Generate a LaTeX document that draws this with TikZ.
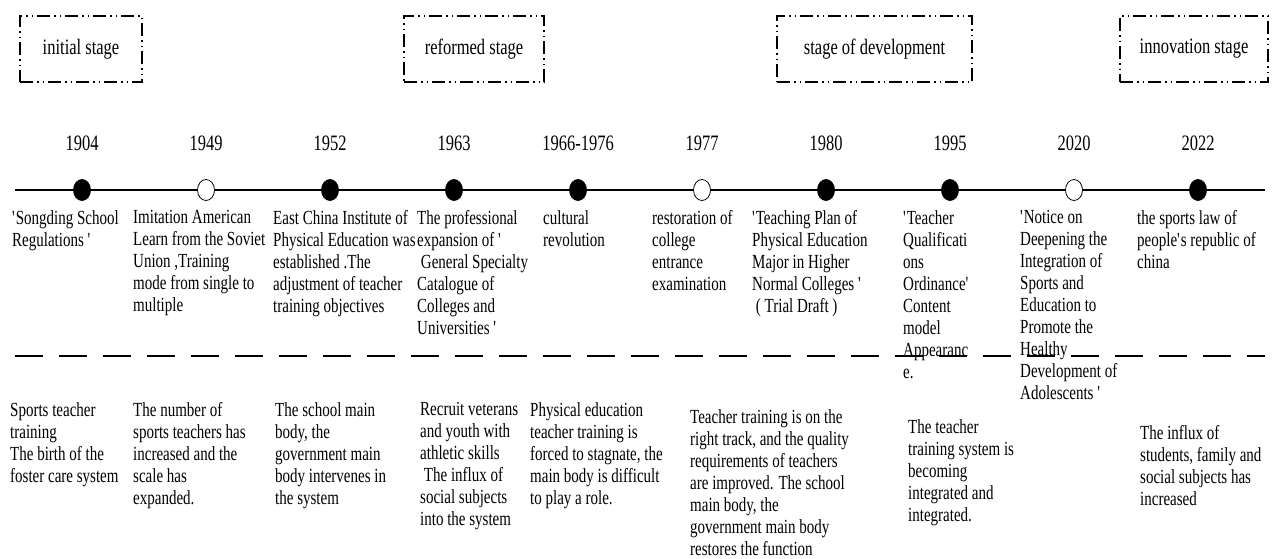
\documentclass[tikz,border=0pt]{standalone}
\usepackage{fontspec}
\setmainfont{Liberation Serif}[FakeStretch=0.75]
\usetikzlibrary{shapes.geometric}

\newcommand{\descfont}{\fontsize{20pt}{22pt}\selectfont}
\newcommand{\headfont}{\fontsize{22pt}{26pt}\selectfont}
\newcommand{\sq}{\textquotesingle}

\tikzset{
  stagebox/.style={draw, line width=1.2pt, minimum height=66pt, inner sep=0pt, font=\headfont,
    dash pattern=on 13pt off 4pt on 1.5pt off 4pt on 1.5pt off 4pt},
  year/.style={font=\headfont, inner sep=0pt},
  fulldot/.style={ellipse, draw, line width=0.8pt, fill=black, minimum width=17pt, minimum height=21pt, inner sep=0pt},
  opendot/.style={fulldot, fill=white},
  desc/.style={anchor=north west, align=left, inner sep=0pt, font=\descfont}
}

\begin{document}
\begin{tikzpicture}[x=1pt,y=1pt]
  \useasboundingbox (0,0) rectangle (1274,-558);

  % stage boxes
  \node[stagebox, minimum width=122pt] (initial) at (81,-49) {initial stage};
  \node[stagebox, minimum width=140pt] (reformed) at (474,-49) {reformed stage};
  \node[stagebox, minimum width=195pt] (develop) at (874.5,-49) {stage of development};
  \node[stagebox, minimum width=148pt] (innov) at (1194,-49) {innovation stage};

  % time line
  \coordinate (lstart) at (15,-190);
  \coordinate (lend) at (1265,-190);
  \draw[line width=1.2pt] (lstart) -- (lend);

  % dots on the line
  \node[fulldot] (d1904) at (82,-190) {};
  \node[opendot] (d1949) at (206,-190) {};
  \node[fulldot] (d1952) at (330,-190) {};
  \node[fulldot] (d1963) at (454,-190) {};
  \node[fulldot] (d1966) at (578,-190) {};
  \node[opendot] (d1977) at (702,-190) {};
  \node[fulldot] (d1980) at (826,-190) {};
  \node[fulldot] (d1995) at (950,-190) {};
  \node[opendot] (d2020) at (1074,-190) {};
  \node[fulldot] (d2022) at (1198,-190) {};

  % years
  \node[year] (y1904) at (82,-143) {1904};
  \node[year] (y1949) at (206,-143) {1949};
  \node[year] (y1952) at (330,-143) {1952};
  \node[year] (y1963) at (454,-143) {1963};
  \node[year] (y1966) at (578,-143) {1966-1976};
  \node[year] (y1977) at (702,-143) {1977};
  \node[year] (y1980) at (826,-143) {1980};
  \node[year] (y1995) at (950,-143) {1995};
  \node[year] (y2020) at (1074,-143) {2020};
  \node[year] (y2022) at (1198,-143) {2022};

  % events above the dashed line
  \node[desc] (e1904) at (12,-210) {\sq Songding School\\Regulations \sq};
  \node[desc] (e1949) at (133,-210) {Imitation American\\Learn from the Soviet\\Union ,Training\\mode from single to\\multiple};
  \node[desc] (e1952) at (273,-210) {East China Institute of\\Physical Education was\\established .The\\adjustment of teacher\\training objectives};
  \node[desc] (e1963) at (417,-210) {The professional\\expansion of \sq\\\ General Specialty\\Catalogue of\\Colleges and\\Universities \sq};
  \node[desc] (e1966) at (543,-210) {cultural\\revolution};
  \node[desc] (e1977) at (652,-210) {restoration of\\college\\entrance\\examination};
  \node[desc] (e1980) at (752,-210) {\sq Teaching Plan of\\Physical Education\\Major in Higher\\Normal Colleges \sq\\\ ( Trial Draft )};
  \node[desc] (e1995) at (903,-210) {\sq Teacher\\Qualificati\\ons\\Ordinance\sq\\Content\\model\\Appearanc\\e.};
  \node[desc] (e2020) at (1020,-210) {\sq Notice on\\Deepening the\\Integration of\\Sports and\\Education to\\Promote the\\Healthy\\Development of\\Adolescents \sq};
  \node[desc] (e2022) at (1137,-210) {the sports law of\\people\sq s republic of\\china};

  % dashed separator
  \coordinate (sstart) at (15,-356);
  \coordinate (send) at (1265,-356);
  \draw[line width=1.5pt, dash pattern=on 28pt off 16pt] (sstart) -- (send);

  % effects below the dashed line
  \node[desc] (f1904) at (10,-402) {Sports teacher\\training\\The birth of the\\foster care system};
  \node[desc] (f1949) at (133,-402) {The number of\\sports teachers has\\increased and the\\scale has\\expanded.};
  \node[desc] (f1952) at (275,-402) {The school main\\body, the\\government main\\body intervenes in\\the system};
  \node[desc] (f1963) at (420,-402) {Recruit veterans\\and youth with\\athletic skills\\\ The influx of\\social subjects\\into the system};
  \node[desc] (f1966) at (530,-402) {Physical education\\teacher training is\\forced to stagnate, the\\main body is difficult\\to play a role.};
  \node[desc] (f1977) at (690,-409) {Teacher training is on the\\right track, and the quality\\requirements of teachers\\are improved. The school\\main body, the\\government main body\\restores the function};
  \node[desc] (f1995) at (908,-419) {The teacher\\training system is\\becoming\\integrated and\\integrated.};
  \node[desc] (f2022) at (1140,-425) {The influx of\\students, family and\\social subjects has\\increased};

\end{tikzpicture}
\end{document}
